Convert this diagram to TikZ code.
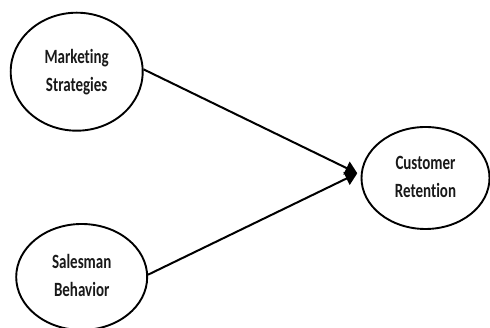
\documentclass[tikz,border=0pt]{standalone}
\usepackage{fontspec}
\usepackage{graphicx}
\setmainfont{Carlito}[Ligatures=NoCommon]
\usetikzlibrary{shapes.geometric,arrows.meta}
\newcommand{\ovaltext}[2]{\scalebox{1}[1.35]{\fontsize{15}{20.5}\selectfont\bfseries\begin{tabular}{@{}c@{}}#1\\#2\end{tabular}}}
\begin{document}
\begin{tikzpicture}[x=1pt,y=1pt,
  oval/.style={ellipse,draw,line width=1.9pt,inner sep=0pt,text=black!90},
  conn/.style={line width=2pt,-{Triangle[length=12pt,width=14pt]}}]
\useasboundingbox (0,0) rectangle (490,328);
\node[oval,minimum width=132pt,minimum height=118pt] (ms) at (76.7,256.3) {\ovaltext{Marketing}{Strategies}};
\node[oval,minimum width=128pt,minimum height=102pt] (cr) at (425.5,150) {\ovaltext{Customer}{Retention}};
\node[oval,minimum width=131pt,minimum height=106pt] (sb) at (81.7,51) {\ovaltext{Salesman}{Behavior}};
\coordinate (tip) at (357.3,154.7);
\draw[conn] (ms.2) -- (tip);
\draw[conn] (sb.2) -- (tip);
\end{tikzpicture}
\end{document}
